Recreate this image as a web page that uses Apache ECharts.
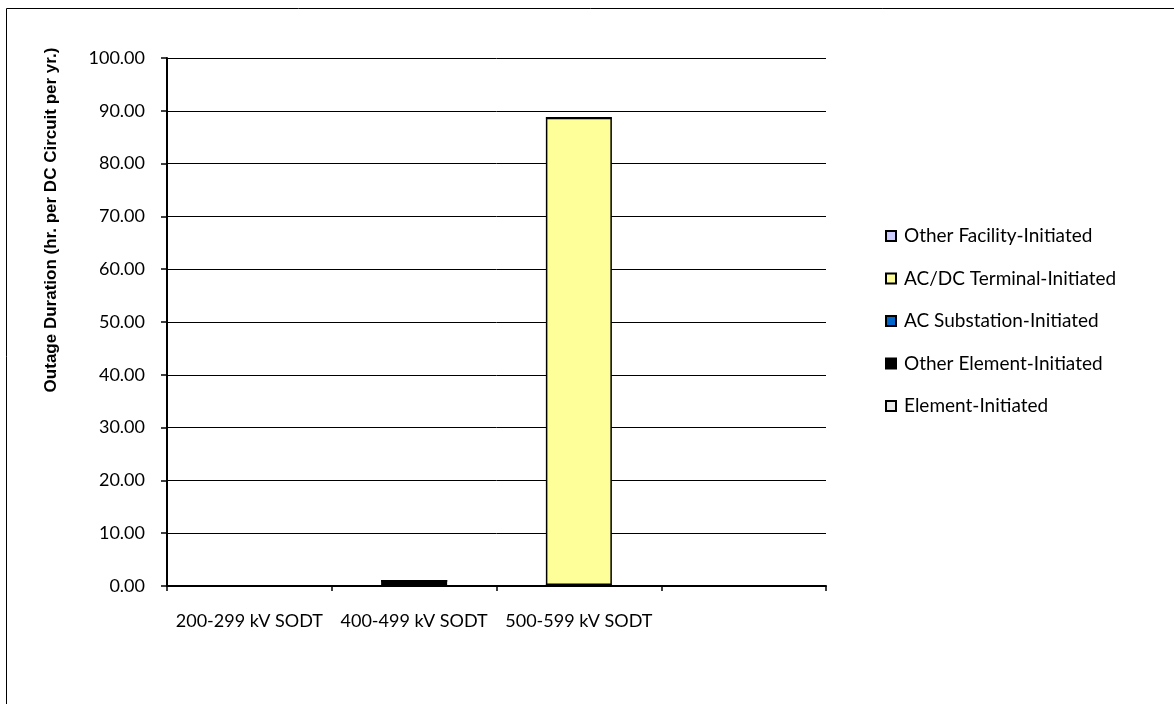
<!DOCTYPE html>
<html><head><meta charset="utf-8">
<script src="https://cdn.jsdelivr.net/npm/echarts@6/dist/echarts.min.js"></script>
<style>html,body{margin:0;padding:0;background:#fff}#c{width:1174px;height:704px}</style>
</head><body><div id="c"></div>
<script>
var categories = ['200-299 kV SODT', '400-499 kV SODT', '500-599 kV SODT', ''];
var elementInitiated = [0, 0, 0, 0];
var otherElementInitiated = [0, 1.0, 0.2, 0];
var acSubstationInitiated = [0, 0, 0, 0];
var acdcTerminalInitiated = [0, 0, 88.5, 0];
var otherFacilityInitiated = [0, 0, 0, 0];
var legendOrder = ['Other Facility-Initiated', 'AC/DC Terminal-Initiated', 'AC Substation-Initiated', 'Other Element-Initiated', 'Element-Initiated'];

var chart = echarts.init(document.getElementById('c'));
var font = 'Lato, "Open Sans", sans-serif';
function s(name, data, color) {
  return {name: name, type: 'bar', stack: 'a', data: data, barWidth: 66,
    itemStyle: {color: color, borderColor: '#000', borderWidth: 1.5},
    emphasis: {disabled: true}};
}
chart.setOption({
  animation: false,
  backgroundColor: '#fff',
  grid: {left: 167, top: 58, width: 659, height: 528},
  graphic: [
    {type: 'rect', shape: {x: 6.5, y: 8.5, width: 1180, height: 710}, style: {fill: 'none', stroke: '#000', lineWidth: 1}},
    {type: 'text', x: 51, y: 220, rotation: Math.PI / 2, style: {text: 'Outage Duration (hr. per DC Circuit per yr.)', font: 'bold 17px "Liberation Sans", Arial, sans-serif', fill: '#000', align: 'center', verticalAlign: 'middle'}}
  ],
  legend: {
    orient: 'vertical', left: 880, top: 221, itemWidth: 10, itemHeight: 10, itemGap: 22.5,
    icon: 'rect', data: legendOrder,
    textStyle: {fontFamily: font, fontSize: 19, lineHeight: 20, color: '#000', padding: [0, 0, 0, 3]},
    selectedMode: false
  },
  xAxis: {
    type: 'category', data: categories,
    axisLine: {lineStyle: {color: '#000', width: 2}},
    axisTick: {show: true, interval: 0, length: 5, lineStyle: {color: '#000', width: 1.5}},
    axisLabel: {interval: 0, hideOverlap: false, color: '#000', fontFamily: font, fontSize: 18, margin: 26}
  },
  yAxis: {
    type: 'value', min: 0, max: 100, interval: 10,
    axisLine: {show: true, lineStyle: {color: '#000', width: 2}},
    axisTick: {show: true, length: 6, lineStyle: {color: '#000', width: 1.5}},
    splitLine: {lineStyle: {color: '#000', width: 1}},
    axisLabel: {color: '#000', fontFamily: font, fontSize: 18, margin: 22, formatter: function (v) { return v.toFixed(2); }}
  },
  series: [
    s('Element-Initiated', elementInitiated, '#e8e8e8'),
    s('Other Element-Initiated', otherElementInitiated, '#000000'),
    s('AC Substation-Initiated', acSubstationInitiated, '#0066cc'),
    s('AC/DC Terminal-Initiated', acdcTerminalInitiated, '#ffff99'),
    s('Other Facility-Initiated', otherFacilityInitiated, '#ccccff')
  ]
});
</script></body></html>
